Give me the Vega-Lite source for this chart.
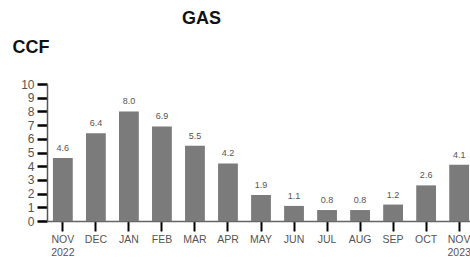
{
  "$schema": "https://vega.github.io/schema/vega-lite/v6.json",
  "autosize": "none",
  "width": 428,
  "height": 137,
  "padding": {"left": 47, "top": 84, "right": 0, "bottom": 40},
  "background": "white",
  "config": {"view": {"stroke": null}, "font": "Liberation Sans"},
  "title": {"text": "GAS", "anchor": "start", "dx": 170, "offset": 10, "fontSize": 18, "fontWeight": "bold", "color": "#111", "font": "Liberation Sans"},
  "data": {"values": [
    {"month": "NOV 2022", "ccf": 4.6},
    {"month": "DEC", "ccf": 6.4},
    {"month": "JAN", "ccf": 8.0},
    {"month": "FEB", "ccf": 6.9},
    {"month": "MAR", "ccf": 5.5},
    {"month": "APR", "ccf": 4.2},
    {"month": "MAY", "ccf": 1.9},
    {"month": "JUN", "ccf": 1.1},
    {"month": "JUL", "ccf": 0.8},
    {"month": "AUG", "ccf": 0.8},
    {"month": "SEP", "ccf": 1.2},
    {"month": "OCT", "ccf": 2.6},
    {"month": "NOV 2023", "ccf": 4.1}
  ]},
  "encoding": {
    "x": {"field": "month", "type": "nominal", "sort": null,
      "scale": {"paddingInner": 0.4, "paddingOuter": 0.18},
      "axis": {"title": null, "labelAngle": 0, "labelExpr": "split(datum.value, ' ')",
        "domainColor": "#666", "domainWidth": 1.5, "tickColor": "#000", "tickWidth": 2, "tickSize": 10,
        "labelColor": "#555", "labelFont": "Liberation Sans", "labelFontSize": 10.5, "labelPadding": 3, "labelLineHeight": 13}},
    "y": {"field": "ccf", "type": "quantitative",
      "scale": {"domain": [0, 10], "nice": false},
      "axis": {"values": [0,1,2,3,4,5,6,7,8,9,10], "grid": false, "title": "CCF", "titleAngle": 0,
        "titleAlign": "left", "titleBaseline": "alphabetic", "titleX": -35, "titleY": -32,
        "titleFontSize": 18, "titleFontWeight": "bold", "titleColor": "#111",
        "domainColor": "#555", "domainWidth": 1.5, "tickColor": "#000", "tickWidth": 2.5, "tickSize": 10,
        "labelColor": "#555", "labelFontSize": 12, "labelPadding": 3}}
  },
  "layer": [
    {"mark": {"type": "bar", "color": "#7b7b7b"}},
    {"mark": {"type": "text", "dy": -5, "baseline": "bottom", "fontSize": 9, "color": "#555"},
     "encoding": {"text": {"field": "ccf", "type": "quantitative", "format": ".1f"}}}
  ]
}
